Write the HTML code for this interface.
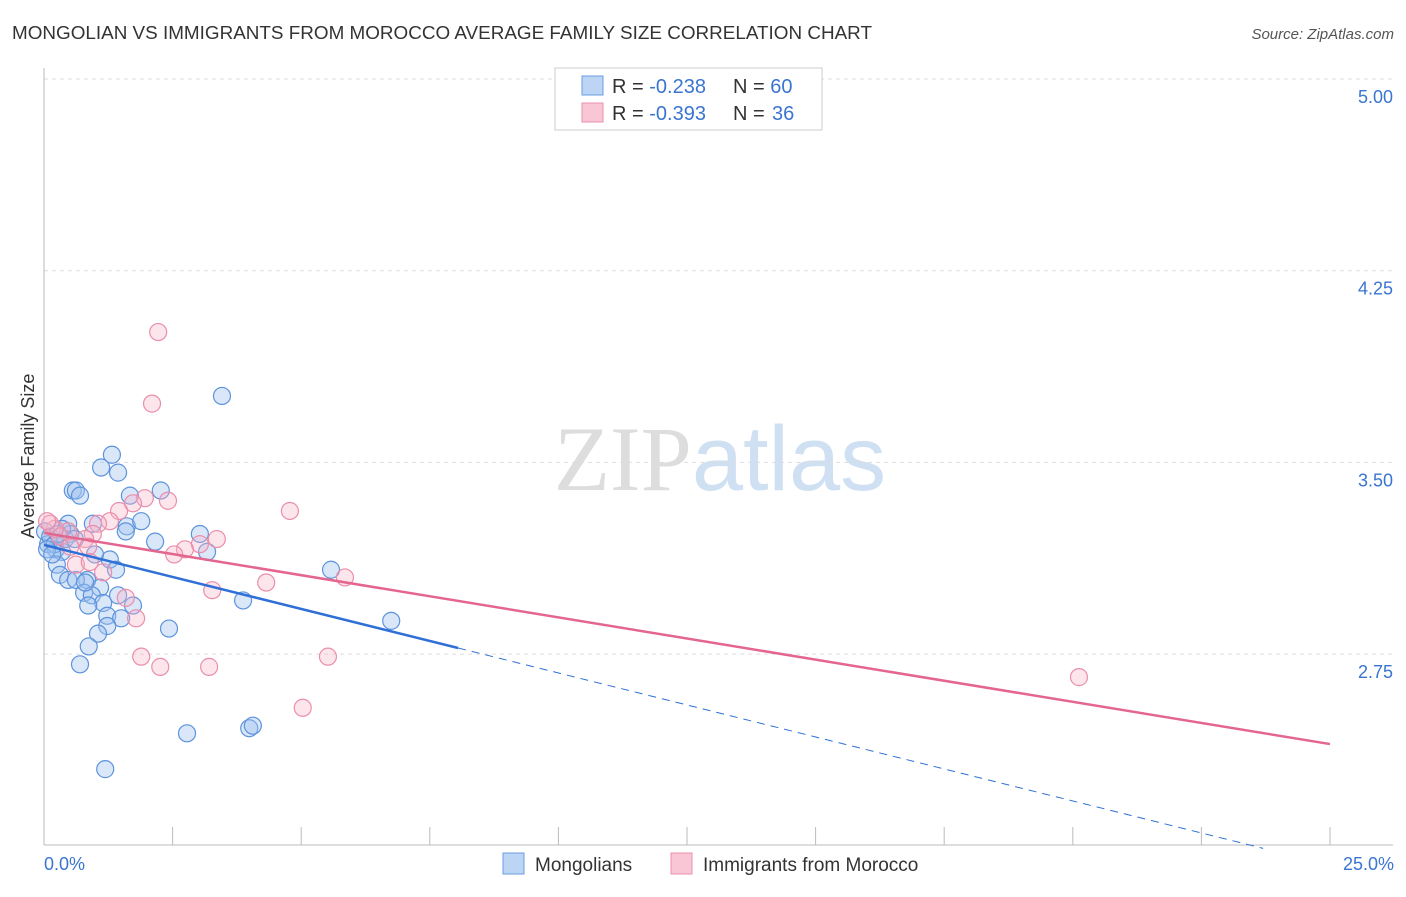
<!DOCTYPE html>
<html><head><meta charset="utf-8"><style>
body{margin:0;background:#fff;font-family:"Liberation Sans",sans-serif;}
svg text{font-family:"Liberation Sans",sans-serif;}
</style></head><body>
<svg id="chart" width="1406" height="892" xmlns="http://www.w3.org/2000/svg">
<text x="12" y="39" font-size="18" fill="#333" textLength="860" lengthAdjust="spacingAndGlyphs">MONGOLIAN VS IMMIGRANTS FROM MOROCCO AVERAGE FAMILY SIZE CORRELATION CHART</text>
<text x="1394" y="39" font-size="15" fill="#555" text-anchor="end" font-style="italic">Source: ZipAtlas.com</text>
<text x="720" y="490" font-size="92" text-anchor="middle"><tspan fill="#ddd" font-family="Liberation Serif">ZIP</tspan><tspan fill="#cfe0f3">atlas</tspan></text>
<g id="grid"></g>
<g id="axes"></g>
<text transform="translate(34,456) rotate(-90)" font-size="18" fill="#333" text-anchor="middle">Average Family Size</text>
<text x="44" y="870" font-size="18" fill="#3a75d0">0.0%</text>
<text x="1394" y="870" font-size="18" fill="#3a75d0" text-anchor="end">25.0%</text>
<g id="points"></g>
<g id="lines"></g>
<g>
<rect x="555" y="68" width="267" height="62" fill="#fff" stroke="#ccc"/>
<rect x="582" y="76" width="21" height="19" fill="#bcd5f5" stroke="#6a9be0"/>
<rect x="582" y="103" width="21" height="19" fill="#f9c6d5" stroke="#e890aa"/>
<text x="612" y="93" font-size="20" fill="#333">R = <tspan fill="#3a75d0">-0.238</tspan></text>
<text x="733" y="93" font-size="20" fill="#333">N = <tspan fill="#3a75d0">60</tspan></text>
<text x="612" y="120" font-size="20" fill="#333">R = <tspan fill="#3a75d0">-0.393</tspan></text>
<text x="733" y="120" font-size="20" fill="#333">N = <tspan fill="#3a75d0" x="772">36</tspan></text>
</g>
<g>
<rect x="503" y="853" width="21" height="21" fill="#bcd5f5" stroke="#6a9be0"/>
<text x="535" y="871" font-size="19" fill="#333">Mongolians</text>
<rect x="671" y="853" width="21" height="21" fill="#f9c6d5" stroke="#e890aa"/>
<text x="703" y="871" font-size="19" fill="#333">Immigrants from Morocco</text>
</g>
</svg>
<script>
const yTicks=[5.00,4.25,3.50,2.75];
const blueX=[3.46,1.32,1.11,1.44,0.56,0.62,0.70,1.67,2.27,0.47,0.95,1.61,1.89,3.03,0.02,0.51,1.59,2.16,0.08,0.23,0.35,3.17,1.28,0.25,1.40,5.58,0.31,0.47,0.84,0.62,1.09,0.78,1.44,0.93,3.87,1.15,1.73,0.86,1.23,1.50,6.75,1.23,2.43,1.05,0.87,0.70,2.78,3.99,4.06,1.19,0.12,0.21,0.41,0.06,0.16,0.60,0.99,0.80,0.35,0.27];
const blueY=[3.76,3.53,3.48,3.46,3.39,3.39,3.37,3.37,3.39,3.26,3.26,3.25,3.27,3.22,3.23,3.22,3.23,3.19,3.18,3.16,3.15,3.15,3.12,3.10,3.08,3.08,3.06,3.04,3.04,3.04,3.01,2.99,2.98,2.98,2.96,2.95,2.94,2.94,2.90,2.89,2.88,2.86,2.85,2.83,2.78,2.71,2.44,2.46,2.47,2.30,3.21,3.18,3.20,3.16,3.14,3.20,3.14,3.03,3.24,3.22];
const pinkX=[2.22,2.10,4.78,2.41,1.96,1.73,1.46,1.28,1.05,0.95,0.80,0.86,0.47,0.31,0.21,0.12,3.36,3.03,2.74,2.53,1.15,0.62,4.32,3.27,5.85,1.59,1.79,1.89,2.26,3.21,5.52,5.03,20.12,0.89,0.06,0.51];
const pinkY=[4.01,3.73,3.31,3.35,3.36,3.34,3.31,3.27,3.26,3.22,3.20,3.17,3.23,3.21,3.24,3.26,3.20,3.18,3.16,3.14,3.07,3.10,3.03,3.00,3.05,2.97,2.89,2.74,2.70,2.70,2.74,2.54,2.66,3.11,3.27,3.17];
const blueFit=[3.177,1.925];
const pinkFit=[3.224,2.398];
const NS="http://www.w3.org/2000/svg";
const X=p=>44+p*51.44, Y=v=>79+(5-v)*255.6;
function mk(t,a,parent){const e=document.createElementNS(NS,t);for(const k in a)e.setAttribute(k,a[k]);document.getElementById(parent).appendChild(e);return e;}
yTicks.forEach(v=>{
 const l=mk('line',{x1:44,x2:1393,y1:Y(v),y2:Y(v),stroke:'#ddd','stroke-dasharray':'4,4'},'grid');
 
 
 const t=mk('text',{x:1393,y:Y(v)+24,'font-size':18,fill:'#3a75d0','text-anchor':'end'},'grid');
 t.textContent=v.toFixed(2);
 
 
});
let a=mk('line',{x1:44,x2:44,y1:68,y2:845,stroke:'#bbb'},'axes');


a=mk('line',{x1:44,x2:1393,y1:845,y2:845,stroke:'#bbb'},'axes');


for(let i=1;i<=10;i++){const t=mk('line',{x1:X(i*2.5),x2:X(i*2.5),y1:827,y2:845,stroke:'#bbb'},'axes');
 
 }
blueX.forEach((x,i)=>{const c=mk('circle',{cx:X(x),cy:Y(blueY[i]),r:8.5,fill:'rgba(160,195,240,0.4)',stroke:'#5d93dc','stroke-width':1.2},'points');
 
 });
pinkX.forEach((x,i)=>{const c=mk('circle',{cx:X(x),cy:Y(pinkY[i]),r:8.5,fill:'rgba(248,180,200,0.35)',stroke:'#ea8eab','stroke-width':1.2},'points');
 
 });
const by=p=>blueFit[0]+(blueFit[1]-blueFit[0])*p/25;
let l=mk('line',{x1:X(0),y1:Y(by(0)),x2:X(8.05),y2:Y(by(8.05)),stroke:'#2f6fd6','stroke-width':2.5},'lines');


l=mk('line',{x1:X(8.05),y1:Y(by(8.05)),x2:X(23.7),y2:Y(by(23.7)),stroke:'#2f6fd6','stroke-width':1,'stroke-dasharray':'8,6'},'lines');


l=mk('line',{x1:X(0),y1:Y(pinkFit[0]),x2:X(25),y2:Y(pinkFit[1]),stroke:'#e4668f','stroke-width':2.5},'lines');


</script>
</body></html>
